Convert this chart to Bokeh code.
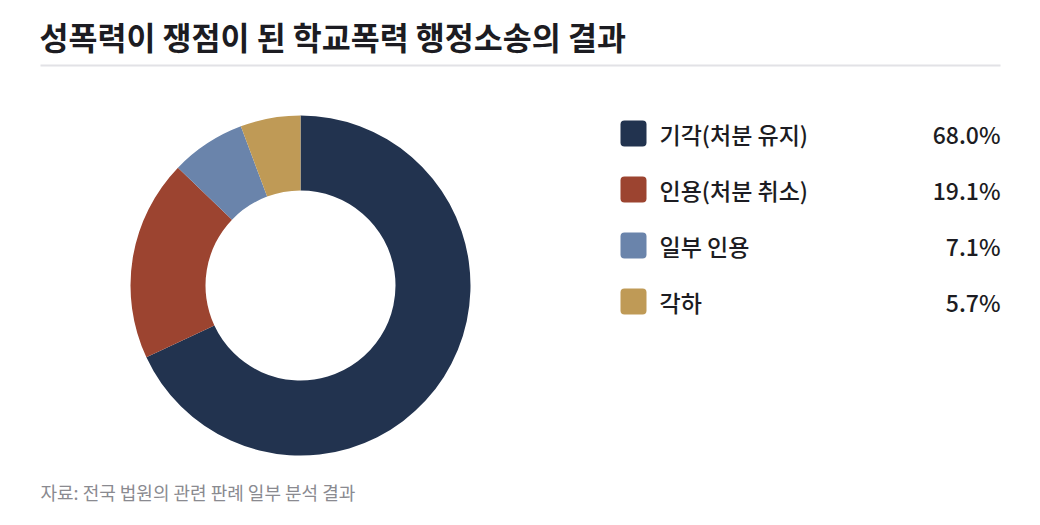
import math
from bokeh.plotting import figure
from bokeh.models import Range1d, ColumnDataSource
from bokeh.core.properties import value
from bokeh.embed import file_html
from bokeh.resources import INLINE

title = "성폭력이 쟁점이 된 학교폭력 행정소송의 결과"
source_note = "자료: 전국 법원의 관련 판례 일부 분석 결과"
categories = ["기각(처분 유지)", "인용(처분 취소)", "일부 인용", "각하"]
shares = [68.0, 19.1, 7.1, 5.7]
colors = ["#22334f", "#9c4430", "#6a84ab", "#bf9a56"]

W, H = 1024, 509
FONT = "Noto Sans CJK KR"
FONT_MED = "Noto Sans CJK KR Medium, Noto Sans CJK KR"


def py(y):
    # page pixel (from top) -> data y
    return H - y


def px(x):
    return x


p = figure(width=W, height=H, output_backend="svg", toolbar_location=None,
           x_range=Range1d(0, W), y_range=Range1d(0, H), min_border=0)
p.axis.visible = False
p.grid.visible = False
p.outline_line_color = None
p.background_fill_color = "white"
p.border_fill_color = "white"

# title and rule
p.text(x=[px(39)], y=[py(35)], text=[title], text_font=value(FONT),
       text_font_style="bold", text_font_size="31.5px", text_color="#1c1c22",
       text_baseline="middle", text_align="left")
p.segment(x0=[px(40)], y0=[py(65)], x1=[px(1000)], y1=[py(65)],
          line_color="#e2e2e6", line_width=2)

# donut
total = sum(shares)
starts, ends = [], []
cum = 0.0
for s in shares:
    starts.append(math.pi / 2 - 2 * math.pi * cum / total)
    cum += s
    ends.append(math.pi / 2 - 2 * math.pi * cum / total)

src = ColumnDataSource(dict(start=starts, end=ends, color=colors))
p.annular_wedge(x=px(300), y=py(285), inner_radius=95, outer_radius=170,
                inner_radius_units="screen", outer_radius_units="screen",
                start_angle="start", end_angle="end", direction="clock",
                fill_color="color", line_color=None, source=src)

# legend
row_y = [py(133 + 56 * i) for i in range(len(categories))]
labels = ["%.1f%%" % v for v in shares]
p.rect(x=[px(633)] * len(categories), y=row_y, width=26, height=26,
       width_units="screen", height_units="screen", fill_color=colors,
       line_color=None, border_radius=4)
p.text(x=[px(659)] * len(categories), y=row_y, text=categories,
       text_font=value(FONT_MED), text_font_size="23px", text_color="#1c1c22",
       text_baseline="middle", text_align="left")
p.text(x=[px(1000)] * len(categories), y=row_y, text=labels,
       text_font=value(FONT_MED), text_font_size="23px", text_color="#1c1c22",
       text_baseline="middle", text_align="right")

# source
p.text(x=[px(40)], y=[py(491)], text=[source_note], text_font=value(FONT),
       text_font_size="18px", text_color="#8a8a90",
       text_baseline="middle", text_align="left")

open("out.html", "w").write(file_html(p, INLINE))
